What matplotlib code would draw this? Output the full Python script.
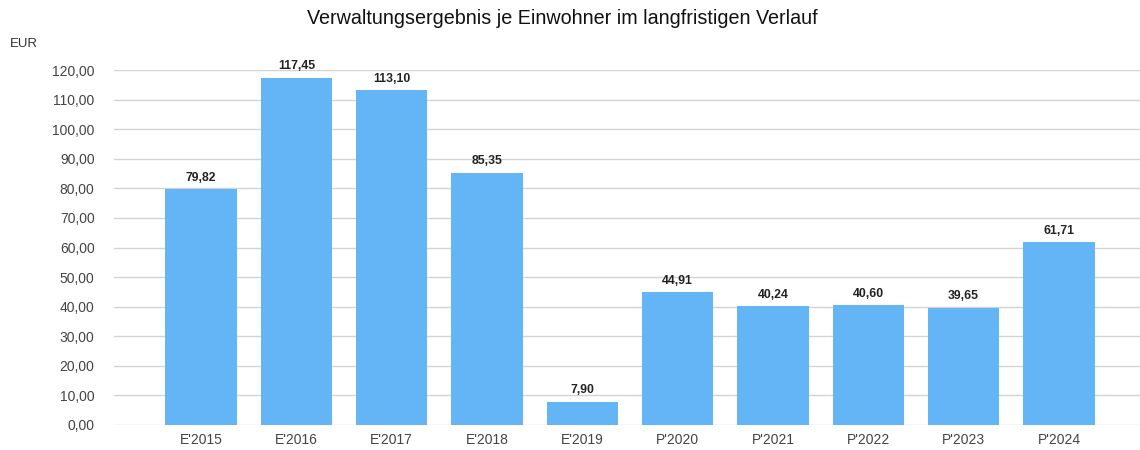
import matplotlib
matplotlib.use("Agg")
import matplotlib.pyplot as plt
from matplotlib.ticker import FuncFormatter

categories = ["E'2015", "E'2016", "E'2017", "E'2018", "E'2019",
              "P'2020", "P'2021", "P'2022", "P'2023", "P'2024"]
values = [79.82, 117.45, 113.10, 85.35, 7.90, 44.91, 40.24, 40.60, 39.65, 61.71]
yticks = [0, 10, 20, 30, 40, 50, 60, 70, 80, 90, 100, 110, 120]

plt.rcParams['font.family'] = ['Liberation Sans', 'DejaVu Sans']

def de(v):
    return f"{v:.2f}".replace(".", ",")

fig = plt.figure(figsize=(11.4, 4.5), dpi=100)
ax = fig.add_axes([0.1, 25/450, 0.9, (425-70)/450])

x = list(range(len(categories)))
bars = ax.bar(x, values, width=0.75, color="#64B5F6", zorder=2)
for xi, v in zip(x, values):
    ax.text(xi, v + 1.8, de(v), ha="center", va="bottom", fontsize=8.8,
            fontweight="bold", color="#222222", clip_on=False)

ax.set_xlim(-0.913, 9.85)
ax.set_ylim(0, 120)
ax.set_yticks(yticks)
ax.yaxis.set_major_formatter(FuncFormatter(lambda v, p: de(v)))
ax.set_xticks(x)
ax.set_xticklabels(categories)
ax.tick_params(axis="both", length=0, labelsize=10, labelcolor="#444444")
ax.tick_params(axis="y", pad=14)
ax.tick_params(axis="x", pad=6)
ax.grid(axis="y", color="#d3d3d3", linewidth=1, zorder=0)
ax.set_axisbelow(True)
for s in ax.spines.values():
    s.set_visible(False)

fig.text(562/1140, 1 - 18/450, "Verwaltungsergebnis je Einwohner im langfristigen Verlauf",
         ha="center", va="center", fontsize=14.2, color="#111111")
fig.text(10/1140, 1 - 44/450, "EUR", ha="left", va="center", fontsize=9.5, color="#333333")

fig.savefig("out.png", dpi=100)
